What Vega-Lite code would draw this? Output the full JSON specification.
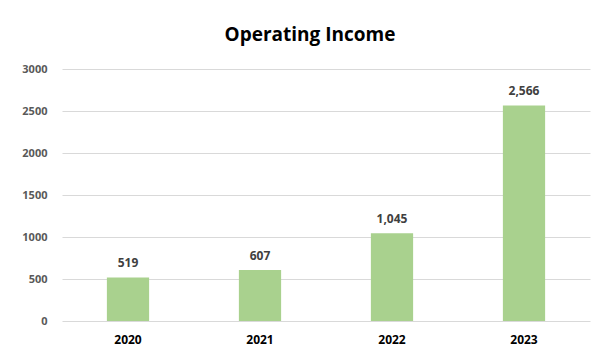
{
  "$schema": "https://vega.github.io/schema/vega-lite/v6.json",
  "width": 528,
  "height": 252,
  "autosize": {"type": "none"},
  "padding": {"left": 62, "top": 69, "right": 15, "bottom": 40},
  "background": "white",
  "title": {
    "text": "Operating Income",
    "font": "Open Sans",
    "fontSize": 19,
    "fontWeight": "bold",
    "color": "#000000",
    "anchor": "middle",
    "dx": -16,
    "offset": 18
  },
  "data": {
    "values": [
      {"year": "2020", "value": 519},
      {"year": "2021", "value": 607},
      {"year": "2022", "value": 1045},
      {"year": "2023", "value": 2566}
    ]
  },
  "encoding": {
    "x": {
      "field": "year",
      "type": "nominal",
      "scale": {"paddingInner": 0.68, "paddingOuter": 0.34},
      "axis": {
        "title": null,
        "labelAngle": 0,
        "domain": false,
        "ticks": false,
        "labelFont": "Open Sans",
        "labelFontSize": 12,
        "labelFontWeight": "bold",
        "labelColor": "#000000",
        "labelPadding": 13
      }
    },
    "y": {
      "field": "value",
      "type": "quantitative",
      "scale": {"domain": [0, 3000], "nice": false},
      "axis": {
        "title": null,
        "values": [0, 500, 1000, 1500, 2000, 2500, 3000],
        "format": "d",
        "domain": false,
        "ticks": false,
        "labelFont": "Open Sans",
        "labelFontSize": 11,
        "labelFontWeight": "bold",
        "labelColor": "#595959",
        "labelPadding": 15,
        "gridColor": "#d9d9d9",
        "gridWidth": 1
      }
    }
  },
  "layer": [
    {"mark": {"type": "bar", "color": "#a9d18e"}},
    {
      "mark": {
        "type": "text",
        "dy": -14,
        "font": "Open Sans",
        "fontSize": 12,
        "fontWeight": "bold",
        "color": "#404040"
      },
      "encoding": {
        "text": {"field": "value", "type": "quantitative", "format": ","}
      }
    }
  ],
  "config": {"view": {"stroke": null}}
}
